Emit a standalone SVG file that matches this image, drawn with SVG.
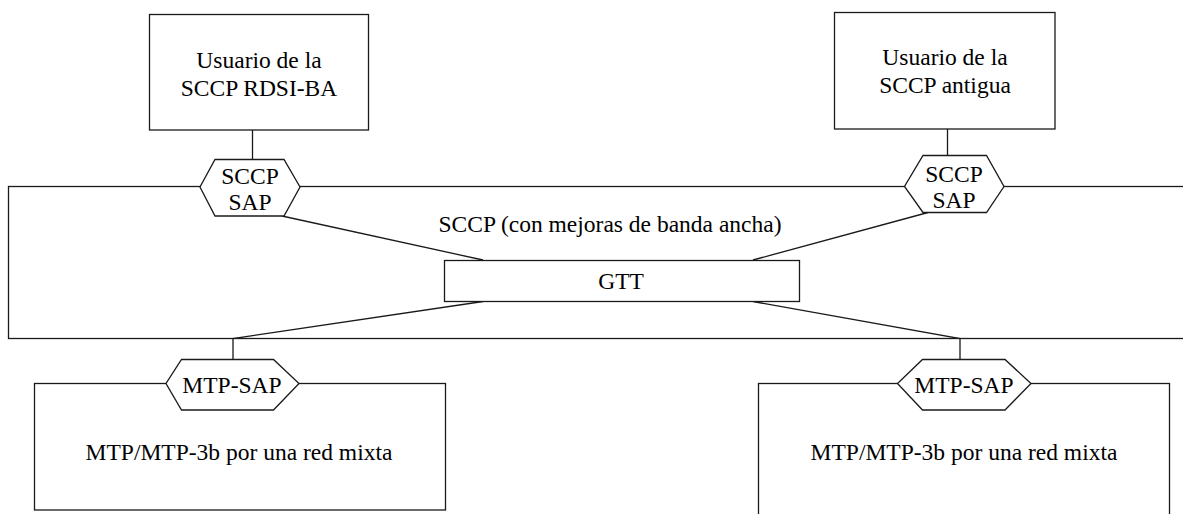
<svg xmlns="http://www.w3.org/2000/svg" width="1183" height="514" viewBox="0 0 1183 514">
<style>
.s{fill:#fff;stroke:#1a1a1a;stroke-width:1.3}
.c{fill:none;stroke:#1a1a1a;stroke-width:1.3}
.t{font-family:'Liberation Serif','DejaVu Serif',serif;font-size:23.5px;fill:#000;text-anchor:middle}
</style>
<rect width="1183" height="514" fill="#fff"/>
<g id="sccp">
<rect class="s" x="8.5" y="186.5" width="1190" height="152"/>
<text class="t" x="610" y="232">SCCP (con mejoras de banda ancha)</text>
</g>
<g id="mtp-left">
<rect class="s" x="34.5" y="383.5" width="411" height="126.5"/>
<text class="t" x="239" y="460">MTP/MTP-3b por una red mixta</text>
</g>
<g id="mtp-right">
<rect class="s" x="758.5" y="383.5" width="411" height="140"/>
<text class="t" x="964" y="460">MTP/MTP-3b por una red mixta</text>
</g>
<g id="connectors">
<line class="c" x1="252.5" y1="130" x2="252.5" y2="159"/>
<line class="c" x1="947.5" y1="129" x2="947.5" y2="155"/>
<line class="c" x1="282" y1="216" x2="483" y2="260"/>
<line class="c" x1="928" y1="212.5" x2="753" y2="260"/>
<polyline class="c" points="483,301.5 233,338.5 233,359"/>
<polyline class="c" points="753,301.5 960,338.5 960,359"/>
</g>
<g id="user-left">
<rect class="s" x="149.5" y="14.5" width="219" height="115.5"/>
<text class="t" x="259" y="68">Usuario de la</text>
<text class="t" x="259" y="96">SCCP RDSI-BA</text>
</g>
<g id="user-right">
<rect class="s" x="834.5" y="12.5" width="220.5" height="116.5"/>
<text class="t" x="945" y="65">Usuario de la</text>
<text class="t" x="945" y="93">SCCP antigua</text>
</g>
<g id="sap-left">
<polygon class="s" points="215,159.5 284,159.5 300,187 284,216 215,216 200,187"/>
<text class="t" x="250" y="184">SCCP</text>
<text class="t" x="250" y="210">SAP</text>
</g>
<g id="sap-right">
<polygon class="s" points="923,155.5 986.5,155.5 1004,186.5 986.5,212.5 923,212.5 904.5,186.5"/>
<text class="t" x="954" y="181.5">SCCP</text>
<text class="t" x="954" y="208">SAP</text>
</g>
<g id="gtt">
<rect class="s" x="444.5" y="260.5" width="355" height="41"/>
<text class="t" x="621" y="289">GTT</text>
</g>
<g id="mtp-sap-left">
<polygon class="s" points="181.5,359.5 273.5,359.5 299,383.5 273.5,410 181.5,410 166,383.5"/>
<text class="t" x="232" y="393">MTP-SAP</text>
</g>
<g id="mtp-sap-right">
<polygon class="s" points="922.5,359.5 1005,359.5 1031,383.5 1005,410 922.5,410 897.5,383.5"/>
<text class="t" x="964" y="393">MTP-SAP</text>
</g>
</svg>
